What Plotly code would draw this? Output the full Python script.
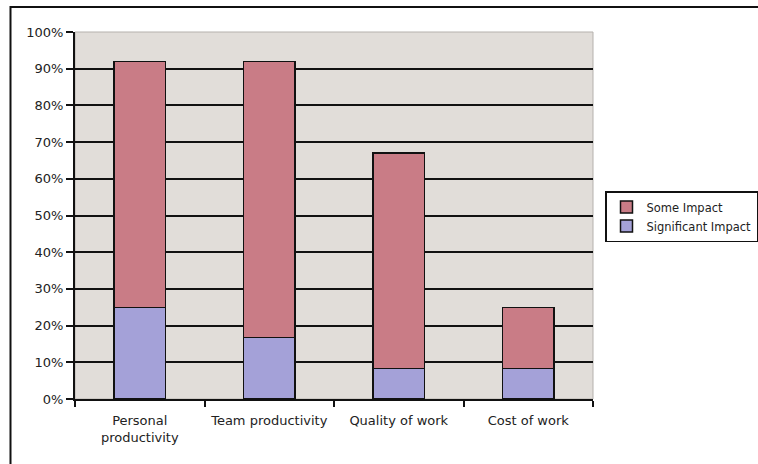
import plotly.graph_objects as go

categories = ["Personal<br>productivity", "Team productivity", "Quality of work", "Cost of work"]
significant_impact = [0.25, 0.167, 0.083, 0.083]
some_impact = [0.67, 0.753, 0.587, 0.167]
y_ticks = [0, 0.1, 0.2, 0.3, 0.4, 0.5, 0.6, 0.7, 0.8, 0.9, 1.0]
grid_vals = [0.1, 0.2, 0.3, 0.4, 0.5, 0.6, 0.7, 0.8, 0.9]

font = dict(family="DejaVu Sans, sans-serif", size=13, color="#222222")

fig = go.Figure()
fig.add_trace(go.Bar(
    x=categories, y=significant_impact, name="Significant Impact",
    marker=dict(color="#A4A1D8", line=dict(color="#111111", width=1.5)),
    width=0.4,
))
fig.add_trace(go.Bar(
    x=categories, y=some_impact, name="Some Impact",
    marker=dict(color="#C97C86", line=dict(color="#111111", width=1.5)),
    width=0.4,
))
# invisible trace on overlay axis for gridlines
fig.add_trace(go.Scatter(x=categories, y=[None]*4, yaxis="y2", showlegend=False, hoverinfo="skip"))

fig.update_layout(
    width=758, height=464,
    margin=dict(l=75, r=161, t=32, b=65),
    barmode="stack",
    paper_bgcolor="white",
    plot_bgcolor="#E1DDD9",
    font=font,
    showlegend=True,
    legend=dict(
        xref="container", yref="container",
        x=605 / 758, y=1 - 191 / 464, xanchor="left", yanchor="top",
        bgcolor="white", bordercolor="#111111", borderwidth=1.5,
        font=dict(family="DejaVu Sans, sans-serif", size=11.5, color="#222222"),
        itemwidth=30, tracegroupgap=0,
    ),
    xaxis=dict(
        showline=True, linecolor="#111111", linewidth=2,
        ticks="outside", ticklen=6, tickwidth=1.5, tickcolor="#111111",
        tickson="boundaries", showgrid=False,
        tickfont=font, ticklabelstandoff=8,
    ),
    yaxis=dict(
        range=[0, 1], tickvals=y_ticks, tickformat=".0%",
        showline=True, linecolor="#111111", linewidth=2,
        ticks="outside", ticklen=7, tickwidth=1.5, tickcolor="#111111",
        showgrid=False, zeroline=False, tickfont=font,
    ),
    yaxis2=dict(
        range=[0, 1], overlaying="y", tickvals=grid_vals, showticklabels=False,
        showgrid=True, gridcolor="#111111", gridwidth=2, zeroline=False, showline=False,
        layer="below traces",
    ),
    shapes=[
        dict(type="rect", xref="paper", yref="paper", x0=0, x1=1, y0=0, y1=1,
             line=dict(color="#B5B1AD", width=1), layer="below"),
        dict(type="rect", xref="paper", yref="paper",
             x0=(10 - 75) / 522, x1=1.4, y0=-0.5, y1=(399 - 7) / 367,
             line=dict(color="#111111", width=2)),
    ],
)

fig.write_html("out.html")
